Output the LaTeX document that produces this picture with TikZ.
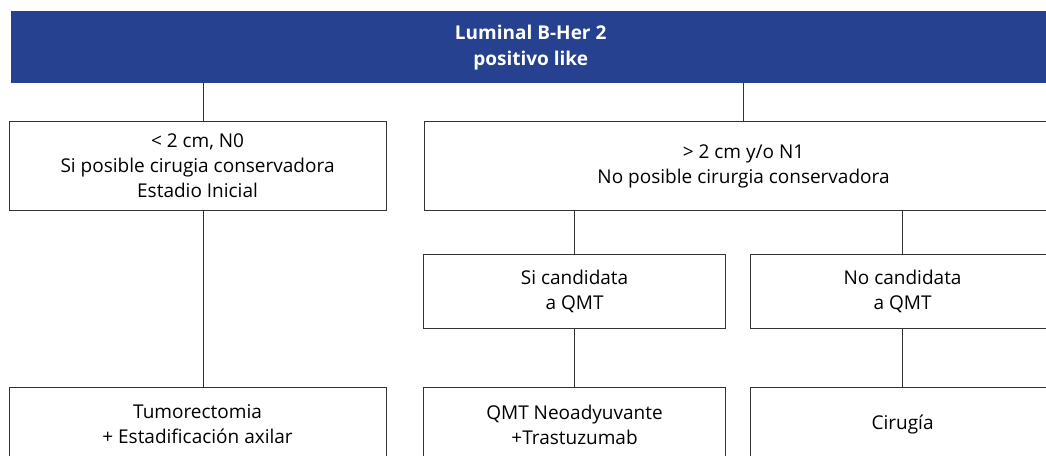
\documentclass[tikz,border=0pt]{standalone}
\usepackage{fontspec}
\setmainfont{Open Sans}
\usetikzlibrary{positioning}
\definecolor{headblue}{HTML}{26418F}
\begin{document}
\begin{tikzpicture}[
  x=1pt, y=-1pt,
  font=\fontsize{19}{25}\selectfont,
  block/.style={draw=black!80, line width=1.1pt, align=center, inner sep=0pt, anchor=north west, fill=white},
  title/.style={fill=headblue, text=white, font=\fontsize{19}{26}\selectfont\bfseries, align=center, inner sep=0pt, anchor=north west},
  link/.style={draw=black!80, line width=1pt}
]
\useasboundingbox (0,0) rectangle (1046,455);
\clip (0,0) rectangle (1046,455);
% Header
\node[title, minimum width=1039pt, minimum height=72pt] (head) at (11,11) {Luminal B-Her 2\\positivo like};
% Stage
\node[block, minimum width=377pt, minimum height=89pt] (early) at (8.5,121) {< 2 cm, N0\\Si posible cirugia conservadora\\Estadio Inicial};
\node[block, minimum width=638pt, minimum height=89pt] (late) at (424,121) {> 2 cm y/o N1\\No posible cirurgia conservadora};
\draw[link] ([xshift=6pt]early.north) -- ([xshift=6pt]early.north |- head.south);
\draw[link] (late.north) -- (late.north |- head.south);
% Candidata
\node[block, minimum width=302pt, minimum height=74pt] (qmtsi) at (423,254) {Si candidata\\a QMT};
\node[block, minimum width=304pt, minimum height=74pt] (qmtno) at (750,254) {No candidata\\a QMT};
\draw[link] (qmtsi.north) -- (qmtsi.north |- late.south);
\draw[link] (qmtno.north) -- (qmtno.north |- late.south);
% Treatment
\node[block, minimum width=377pt, minimum height=74pt] (tumor) at (8.5,387) {Tumorectomia\\+ Estadificación axilar};
\node[block, minimum width=302pt, minimum height=74pt] (neo) at (423,387) {QMT Neoadyuvante\\+Trastuzumab};
\node[block, minimum width=304pt, minimum height=74pt] (surgery) at (750,387) {Cirugía};
\draw[link] ([xshift=6pt]early.south) -- ([xshift=6pt]tumor.north);
\draw[link] (qmtsi) -- (neo);
\draw[link] (qmtno) -- (surgery);
\end{tikzpicture}
\end{document}
